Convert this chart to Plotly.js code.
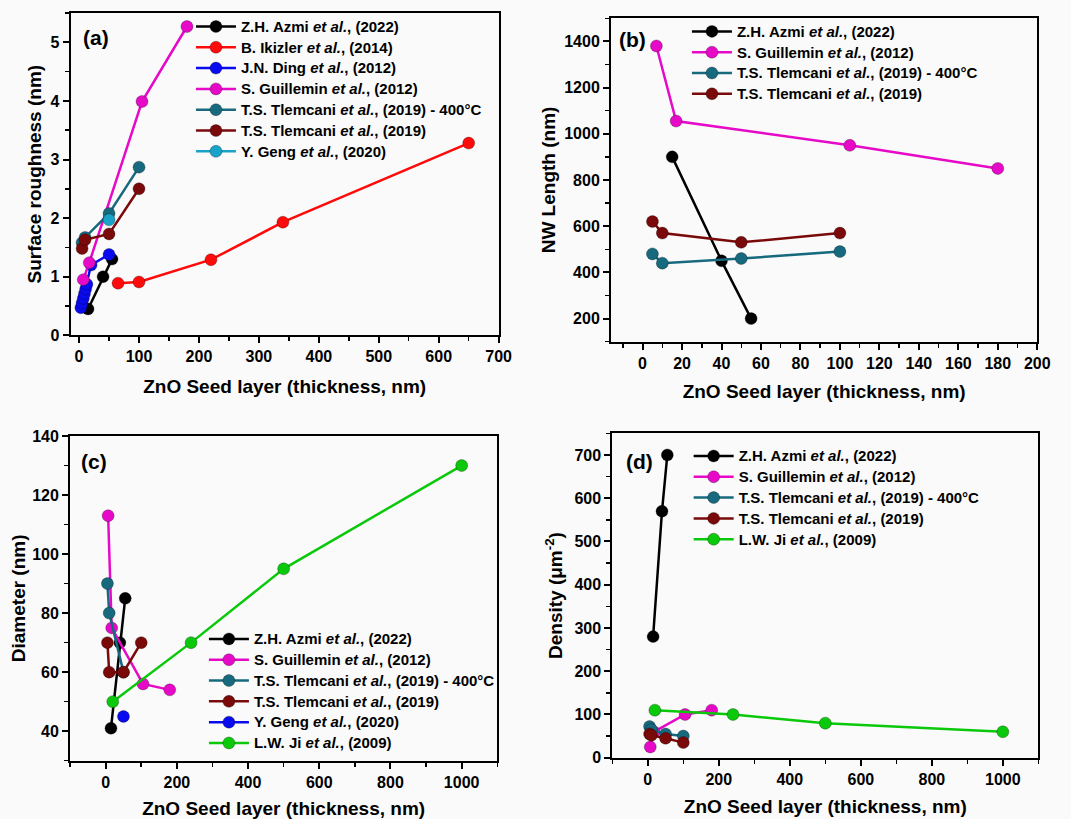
<!DOCTYPE html>
<html>
<head>
<meta charset="utf-8">
<script src="https://cdn.plot.ly/plotly-3.0.1.min.js"></script>
<style>html,body{margin:0;padding:0;background:#fafafa;}#chart{width:1071px;height:819px;}</style>
</head>
<body>
<div id="chart"></div>
<script>
// ---------- Data ----------
// Series names
const nAzmi = 'Z.H. Azmi <i>et al.</i>, (2022)';
const nIkizler = 'B. Ikizler <i>et al.</i>, (2014)';
const nDing = 'J.N. Ding <i>et al.</i>, (2012)';
const nGuillemin = 'S. Guillemin <i>et al.</i>, (2012)';
const nTlem400 = 'T.S. Tlemcani <i>et al.</i>, (2019) - 400°C';
const nTlem = 'T.S. Tlemcani <i>et al.</i>, (2019)';
const nGeng = 'Y. Geng <i>et al.</i>, (2020)';
const nJi = 'L.W. Ji <i>et al.</i>, (2009)';

// (a) Surface roughness (nm)
const aAzmiX = [15, 40, 55];            const aAzmiY = [0.45, 1.0, 1.3];
const aIkizlerX = [65, 100, 220, 340, 650]; const aIkizlerY = [0.89, 0.91, 1.29, 1.93, 3.28];
const aDingX = [3, 5, 7, 9, 11, 13, 20, 50]; const aDingY = [0.47, 0.55, 0.63, 0.71, 0.79, 0.87, 1.2, 1.38];
const aGuilleminX = [7, 17, 105, 180];  const aGuilleminY = [0.95, 1.24, 3.99, 5.27];
const aTlem400X = [5, 10, 50, 100];     const aTlem400Y = [1.58, 1.67, 2.08, 2.87];
const aTlemX = [5, 10, 50, 100];        const aTlemY = [1.48, 1.63, 1.73, 2.5];
const aGengX = [50];                    const aGengY = [1.97];

// (b) NW Length (nm)
const bAzmiX = [15, 40, 55];            const bAzmiY = [900, 450, 200];
const bGuilleminX = [7, 17, 105, 180];  const bGuilleminY = [1380, 1055, 950, 850];
const bTlem400X = [5, 10, 50, 100];     const bTlem400Y = [480, 440, 460, 490];
const bTlemX = [5, 10, 50, 100];        const bTlemY = [620, 570, 530, 570];

// (c) Diameter (nm)
const cAzmiX = [15, 40, 55];            const cAzmiY = [41, 70, 85];
const cGuilleminX = [7, 17, 105, 180];  const cGuilleminY = [113, 75, 56, 54];
const cTlem400X = [5, 10, 50];          const cTlem400Y = [90, 80, 60];
const cTlemX = [5, 10, 50, 100];        const cTlemY = [70, 60, 60, 70];
const cGengX = [50];                    const cGengY = [45];
const cJiX = [20, 240, 500, 1000];      const cJiY = [50, 70, 95, 130];

// (d) Density (um^-2)
const dAzmiX = [15, 40, 55];            const dAzmiY = [280, 570, 700];
const dGuilleminX = [7, 17, 105, 180];  const dGuilleminY = [25, 60, 100, 110];
const dTlem400X = [5, 10, 50, 100];     const dTlem400Y = [72, 65, 55, 50];
const dTlemX = [5, 10, 50, 100];        const dTlemY = [55, 52, 45, 35];
const dJiX = [20, 240, 500, 1000];      const dJiY = [110, 100, 80, 60];

// ---------- Style ----------
const FONT = 'Arial, "Liberation Sans", sans-serif';
const C = {
  azmi: '#000000', ikizler: '#ff0a0a', ding: '#0a0aee', guillemin: '#e60ac8',
  tlem400: '#17697e', tlem: '#7a0a0a', geng: '#1aa3c8', ji: '#0ac80a'
};

function tr(x, y, name, color, xa, ya, leg) {
  return {
    type: 'scatter', mode: 'lines+markers', x: x, y: y,
    name: '<span style="font-size:15px">' + name + '</span>',
    xaxis: xa, yaxis: ya, legend: leg,
    line: {color: color, width: 2.5},
    marker: {color: color, size: 12, line: {width: 0.8, color: 'rgba(0,0,0,0.35)'}},
    hoverinfo: 'x+y+name'
  };
}

const data = [
  tr(aAzmiX, aAzmiY, nAzmi, C.azmi, 'x', 'y', 'legend'),
  tr(aIkizlerX, aIkizlerY, nIkizler, C.ikizler, 'x', 'y', 'legend'),
  tr(aDingX, aDingY, nDing, C.ding, 'x', 'y', 'legend'),
  tr(aGuilleminX, aGuilleminY, nGuillemin, C.guillemin, 'x', 'y', 'legend'),
  tr(aTlem400X, aTlem400Y, nTlem400, C.tlem400, 'x', 'y', 'legend'),
  tr(aTlemX, aTlemY, nTlem, C.tlem, 'x', 'y', 'legend'),
  tr(aGengX, aGengY, nGeng, C.geng, 'x', 'y', 'legend'),

  tr(bAzmiX, bAzmiY, nAzmi, C.azmi, 'x2', 'y2', 'legend2'),
  tr(bGuilleminX, bGuilleminY, nGuillemin, C.guillemin, 'x2', 'y2', 'legend2'),
  tr(bTlem400X, bTlem400Y, nTlem400, C.tlem400, 'x2', 'y2', 'legend2'),
  tr(bTlemX, bTlemY, nTlem, C.tlem, 'x2', 'y2', 'legend2'),

  tr(cAzmiX, cAzmiY, nAzmi, C.azmi, 'x3', 'y3', 'legend3'),
  tr(cGuilleminX, cGuilleminY, nGuillemin, C.guillemin, 'x3', 'y3', 'legend3'),
  tr(cTlem400X, cTlem400Y, nTlem400, C.tlem400, 'x3', 'y3', 'legend3'),
  tr(cTlemX, cTlemY, nTlem, C.tlem, 'x3', 'y3', 'legend3'),
  tr(cGengX, cGengY, nGeng, C.ding, 'x3', 'y3', 'legend3'),
  tr(cJiX, cJiY, nJi, C.ji, 'x3', 'y3', 'legend3'),

  tr(dAzmiX, dAzmiY, nAzmi, C.azmi, 'x4', 'y4', 'legend4'),
  tr(dGuilleminX, dGuilleminY, nGuillemin, C.guillemin, 'x4', 'y4', 'legend4'),
  tr(dTlem400X, dTlem400Y, nTlem400, C.tlem400, 'x4', 'y4', 'legend4'),
  tr(dTlemX, dTlemY, nTlem, C.tlem, 'x4', 'y4', 'legend4'),
  tr(dJiX, dJiY, nJi, C.ji, 'x4', 'y4', 'legend4')
];

function axis(o) {
  return {
    domain: o.domain, anchor: o.anchor, range: o.range,
    tick0: o.tick0, dtick: o.dtick, tickmode: 'linear',
    ticks: 'outside', ticklen: 6, tickwidth: 2, tickcolor: '#000',
    minor: {dtick: o.minor, ticks: 'outside', ticklen: 4, tickwidth: 1.5, tickcolor: '#000', showgrid: false},
    showline: true, linewidth: 2, linecolor: '#000', mirror: true,
    showgrid: false, zeroline: false, automargin: false,
    tickfont: {family: FONT, size: 16, color: '#000', weight: 'bold'},
    title: {text: o.title, standoff: o.standoff, font: {family: FONT, size: 19, color: '#000', weight: 'bold'}}
  };
}
const xTitle = 'ZnO Seed layer (thickness, nm)';

function legend(x, y) {
  return {
    x: x, y: y, xanchor: 'left', yanchor: 'top', xref: 'paper', yref: 'paper',
    bgcolor: 'rgba(0,0,0,0)', borderwidth: 0, tracegroupgap: 0, itemwidth: 40,
    font: {family: FONT, size: 13.7, color: '#000', weight: 'bold'}
  };
}

function label(t, x, y) {
  return {text: t, x: x, y: y, xref: 'paper', yref: 'paper', xanchor: 'left', yanchor: 'middle',
    showarrow: false, font: {family: FONT, size: 21, color: '#000', weight: 'bold'}};
}

const layout = {
  width: 1071, height: 819,
  margin: {l: 0, r: 0, t: 0, b: 0},
  paper_bgcolor: '#fafafa', plot_bgcolor: '#fafafa',
  showlegend: true,
  xaxis: axis({domain: [0.066, 0.4656], anchor: 'y', range: [-14, 700], tick0: 0, dtick: 100, minor: 50, title: xTitle, standoff: 15}),
  yaxis: axis({domain: [0.5906, 0.9841], anchor: 'x', range: [0, 5.5], tick0: 0, dtick: 1, minor: 0.5, title: 'Surface roughness (nm)', standoff: 4}),
  xaxis2: axis({domain: [0.5705, 0.9685], anchor: 'y2', range: [-16, 200], tick0: 0, dtick: 20, minor: 10, title: xTitle, standoff: 14}),
  yaxis2: axis({domain: [0.5828, 0.9777], anchor: 'x2', range: [100, 1500], tick0: 200, dtick: 200, minor: 100, title: 'NW Length (nm)', standoff: 4}),
  xaxis3: axis({domain: [0.0654, 0.4643], anchor: 'y3', range: [-100, 1100], tick0: 0, dtick: 200, minor: 100, title: xTitle, standoff: 14}),
  yaxis3: axis({domain: [0.0712, 0.4676], anchor: 'x3', range: [30, 140], tick0: 40, dtick: 20, minor: 10, title: 'Diameter (nm)', standoff: 1}),
  xaxis4: axis({domain: [0.5717, 0.9695], anchor: 'y4', range: [-100, 1100], tick0: 0, dtick: 200, minor: 100, title: xTitle, standoff: 13}),
  yaxis4: axis({domain: [0.0748, 0.4709], anchor: 'x4', range: [0, 750], tick0: 0, dtick: 100, minor: 50, title: 'Density (μm<sup>-2</sup>)', standoff: 7}),
  legend: legend(0.1783, 0.9865),
  legend2: legend(0.6414, 0.9805),
  legend3: legend(0.1904, 0.2387),
  legend4: legend(0.643, 0.4621),
  annotations: [
    label('(a)', 0.0756, 0.9548),
    label('(b)', 0.5761, 0.9512),
    label('(c)', 0.0738, 0.4363),
    label('(d)', 0.5829, 0.4363)
  ]
};

Plotly.newPlot('chart', data, layout, {displayModeBar: false, staticPlot: true});
</script>
</body>
</html>
